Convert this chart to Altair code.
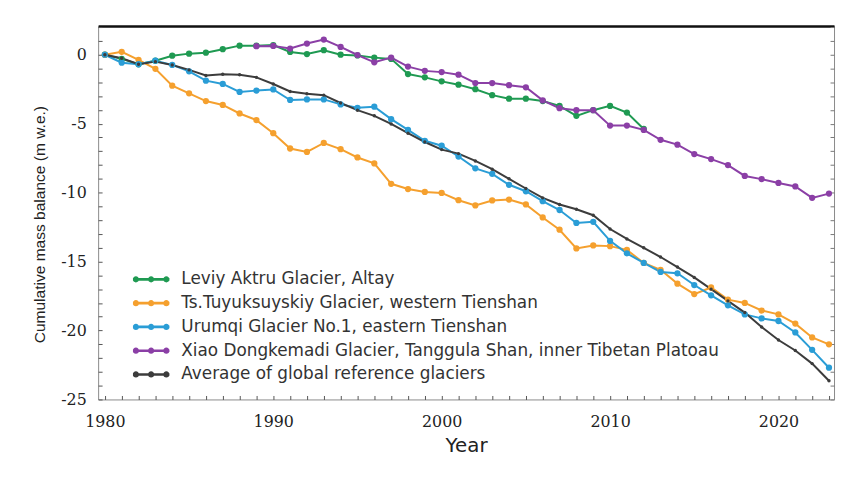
import altair as alt
import pandas as pd

years = list(range(1980, 2024))
purple_years = list(range(1989, 2024))
green_years = list(range(1980, 2013))

series_names = [
    "Leviy Aktru Glacier, Altay",
    "Ts.Tuyuksuyskiy Glacier, western Tienshan",
    "Urumqi Glacier No.1, eastern Tienshan",
    "Xiao Dongkemadi Glacier, Tanggula Shan, inner Tibetan Platoau",
    "Average of global reference glaciers",
]
series_colors = ["#1f9a52", "#f5a02e", "#2a9dd6", "#8b3fa6", "#3c3c3c"]

leviy = [0, -0.3, -0.69, -0.43, -0.07, 0.08, 0.15, 0.4, 0.66, 0.66, 0.7, 0.2, 0.05,
         0.33, 0.0, -0.05, -0.21, -0.3, -1.4, -1.64, -1.93, -2.17, -2.5, -2.93,
         -3.19, -3.19, -3.36, -3.71, -4.43, -4.02, -3.71, -4.19, -5.38]

tuyuksu = [0, 0.21, -0.38, -1.02, -2.24, -2.8, -3.36, -3.64, -4.26, -4.74, -5.69,
           -6.8, -7.05, -6.4, -6.85, -7.45, -7.88, -9.36, -9.74, -9.95, -10.02,
           -10.55, -10.93, -10.57, -10.5, -10.86, -11.8, -12.69, -14.05, -13.83,
           -13.88, -14.15, -15.1, -15.6, -16.6, -17.36, -16.88, -17.76, -18.0,
           -18.55, -18.83, -19.5, -20.5, -21.0]

urumqi = [0, -0.58, -0.69, -0.43, -0.74, -1.2, -1.88, -2.12, -2.7, -2.6, -2.52,
          -3.28, -3.24, -3.24, -3.6, -3.85, -3.77, -4.67, -5.45, -6.24, -6.6,
          -7.38, -8.24, -8.64, -9.43, -9.9, -10.62, -11.26, -12.2, -12.12, -13.5,
          -14.4, -15.1, -15.75, -15.85, -16.7, -17.45, -18.17, -18.83, -19.12,
          -19.31, -20.14, -21.4, -22.7]

xiao = [0.62, 0.64, 0.45, 0.81, 1.1, 0.57, -0.02, -0.55, -0.21, -0.86, -1.17,
        -1.26, -1.45, -2.05, -2.05, -2.21, -2.36, -3.31, -3.88, -4.02, -4.02,
        -5.14, -5.14, -5.45, -6.17, -6.52, -7.2, -7.57, -8.0, -8.79, -9.02, -9.3,
        -9.55, -10.38, -10.07]

average = [0, -0.26, -0.69, -0.5, -0.74, -1.1, -1.5, -1.42, -1.45, -1.64, -2.12,
           -2.66, -2.83, -2.93, -3.5, -4.02, -4.43, -5.02, -5.69, -6.33, -6.88,
           -7.17, -7.7, -8.3, -9.0, -9.7, -10.38, -10.86, -11.21, -11.64, -12.64,
           -13.36, -14.0, -14.67, -15.4, -16.15, -17.0, -17.85, -18.7, -19.74,
           -20.69, -21.45, -22.4, -23.64]

rows = []
for name, yrs, vals in [
    (series_names[0], green_years, leviy),
    (series_names[1], years, tuyuksu),
    (series_names[2], years, urumqi),
    (series_names[3], purple_years, xiao),
    (series_names[4], years, average),
]:
    for yr, v in zip(yrs, vals):
        rows.append({"year": yr, "value": v, "series": name})
df = pd.DataFrame(rows)

legend_path = (
    "M-1,-0.07L1,-0.07L1,0.07L-1,0.07Z "
    "M-0.66,0A0.17,0.17,0,1,1,-1,0A0.17,0.17,0,1,1,-0.66,0Z "
    "M0.17,0A0.17,0.17,0,1,1,-0.17,0A0.17,0.17,0,1,1,0.17,0Z "
    "M1,0A0.17,0.17,0,1,1,0.66,0A0.17,0.17,0,1,1,1,0Z"
)

color_scale = alt.Scale(domain=series_names, range=series_colors)
legend = alt.Legend(
    title=None, orient="none", legendX=35, legendY=244,
    symbolType=legend_path, symbolSize=1369, symbolStrokeWidth=0,
    labelFont="DejaVu Sans", labelFontSize=17, labelColor="#333",
    labelLimit=700, rowPadding=0, clipHeight=23.5, symbolOffset=0, labelOffset=12,
)

xscale = alt.Scale(domain=[1979.6, 2023.3], nice=False, zero=False)
yscale = alt.Scale(domain=[-25, 2.08], nice=False, zero=False)

serif = "DejaVu Serif"

x_bottom = alt.Axis(
    values=years, labelExpr="datum.value % 10 == 0 ? '' + datum.value : ''",
    labelOverlap=False, labelFlush=False, domain=False, grid=False,
    offset=-4, tickSize=4, tickColor="#555", labelFont=serif, labelFontSize=16,
    labelColor="#222", labelPadding=14, title="Year", titleFont="DejaVu Sans",
    titleFontSize=20, titleFontWeight="normal", titleColor="#222",
    titleBaseline="middle", titleY=51,
)
x_top = alt.Axis(
    orient="top", labels=False, ticks=False, grid=False, title=None,
    domain=True, domainColor="#111", domainWidth=2.5,
)
y_left = alt.Axis(
    values=list(range(-25, 3)),
    labelExpr="datum.value % 5 == 0 ? '' + datum.value : ''",
    labelOverlap=False, labelFlush=False, domain=False, grid=False,
    offset=-4, tickSize=4, tickColor="#555", labelFont=serif, labelFontSize=16,
    labelColor="#222", labelPadding=12,
    title="Cumulative mass balance (m w.e.)", titleFont="Liberation Sans",
    titleFontSize=15.7, titleFontWeight="normal", titleColor="#222",
    titleAngle=270, titleBaseline="middle", titleAlign="center",
    titleX=-63, titleY=200,
)
y_right = alt.Axis(
    orient="right", values=list(range(-25, 3)), labels=False, domain=False,
    grid=False, offset=-4, tickSize=4, tickColor="#777", title=None,
)

lines = alt.Chart(df).mark_line(strokeWidth=2).encode(
    x=alt.X("year:Q", scale=xscale, axis=x_bottom),
    y=alt.Y("value:Q", scale=yscale, axis=y_left),
    color=alt.Color("series:N", scale=color_scale, legend=legend, sort=series_names),
    detail="series:N",
)

points = alt.Chart(df).mark_circle(opacity=1).encode(
    x=alt.X("year:Q", scale=xscale, axis=x_top),
    y=alt.Y("value:Q", scale=yscale, axis=y_right),
    color=alt.Color("series:N", scale=color_scale, legend=legend, sort=series_names),
    size=alt.condition(alt.datum.series == series_names[4], alt.value(12), alt.value(40)),
)

chart = (
    alt.layer(lines, points)
    .resolve_axis(x="independent", y="independent")
    .properties(
        width=743, height=377,
        autosize=alt.AutoSizeParams(type="none"),
        padding={"left": 91, "top": 16, "right": 3, "bottom": 70},
        background="white",
    )
    .configure_view(stroke="#8a8a8a", strokeWidth=1)
)

chart.save("out.html", embed_options={"renderer": "svg", "actions": False})
